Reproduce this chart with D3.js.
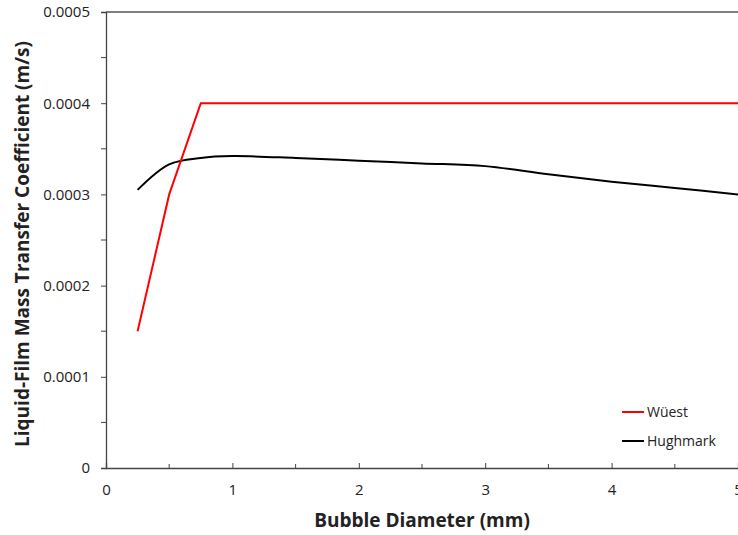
<!DOCTYPE html>
<html>
<head>
<meta charset="utf-8">
<script src="https://cdn.jsdelivr.net/npm/d3@7"></script>
<style>
body { margin: 0; background: #fff; }
text { font-family: "Open Sans", "Noto Sans", sans-serif; }
</style>
</head>
<body>
<script>
var width = 738, height = 535;

// data
var diameter = [0.25, 0.5, 0.75, 1, 1.5, 2, 2.5, 3, 3.5, 4, 4.5, 5];
var wuest = [0.00015, 0.0003, 0.0004, 0.0004, 0.0004, 0.0004, 0.0004, 0.0004, 0.0004, 0.0004, 0.0004, 0.0004];
var hughmark = [0.000305, 0.000333, 0.00034, 0.000342, 0.00034, 0.000337, 0.000334, 0.000331, 0.000322, 0.000314, 0.000307, 0.0003];
var xTicks = [0, 1, 2, 3, 4, 5];
var yTicks = [0, 0.0001, 0.0002, 0.0003, 0.0004, 0.0005];
var seriesNames = ["Wüest", "Hughmark"];
var seriesColors = ["#ff0000", "#000000"];

var mLeft = 106, mRight = 738, mTop = 12, mBottom = 468;

var x = d3.scaleLinear().domain([0, 5]).range([mLeft, mRight]);
var y = d3.scaleLinear().domain([0, 0.0005]).range([mBottom, mTop]);

var svg = d3.select("body").append("svg")
    .attr("width", width)
    .attr("height", height);

// frame line on top
svg.append("line")
    .attr("x1", mLeft).attr("x2", mRight)
    .attr("y1", mTop).attr("y2", mTop)
    .attr("stroke", "#000").attr("stroke-width", 1);

// y axis
var yAxis = svg.append("g")
    .attr("transform", "translate(" + mLeft + ",0)")
    .call(d3.axisLeft(y).tickValues(yTicks).tickSize(5).tickPadding(11)
        .tickFormat(function(d) { return d === 0 ? "0" : d.toFixed(4); }));
yAxis.selectAll(".tick line").attr("stroke", "#444");
yAxis.select(".domain").attr("stroke", "#444").attr("stroke-width", 1.3);
yAxis.selectAll("text").attr("font-size", 15).attr("fill", "#222")
    .attr("font-family", "Open Sans, Noto Sans, sans-serif");
// minor y ticks
svg.append("g").selectAll("line")
    .data(d3.range(0.00005, 0.0005, 0.0001))
    .join("line")
    .attr("x1", mLeft - 5).attr("x2", mLeft)
    .attr("y1", function(d) { return y(d); }).attr("y2", function(d) { return y(d); })
    .attr("stroke", "#444");

// x axis, ticks pointing inside
var xAxis = svg.append("g")
    .attr("transform", "translate(0," + mBottom + ")")
    .call(d3.axisBottom(x).tickValues(xTicks).tickSize(-5).tickPadding(16)
        .tickFormat(d3.format("d")));
xAxis.selectAll(".tick line").attr("stroke", "#444");
xAxis.select(".domain").attr("stroke", "#444").attr("stroke-width", 1.3);
xAxis.selectAll("text").attr("font-size", 15).attr("fill", "#222")
    .attr("font-family", "Open Sans, Noto Sans, sans-serif");
svg.append("g").selectAll("line")
    .data(d3.range(0.5, 5, 1))
    .join("line")
    .attr("x1", function(d) { return x(d); }).attr("x2", function(d) { return x(d); })
    .attr("y1", mBottom - 4).attr("y2", mBottom)
    .attr("stroke", "#444");

// axis titles
svg.append("text")
    .attr("x", 422)
    .attr("y", 527)
    .attr("text-anchor", "middle")
    .attr("font-size", 19).attr("font-weight", "bold").attr("fill", "#222")
    .text("Bubble Diameter (mm)");

svg.append("text")
    .attr("transform", "translate(29,244) rotate(-90)")
    .attr("text-anchor", "middle")
    .attr("font-size", 19).attr("font-weight", "bold").attr("fill", "#222")
    .text("Liquid-Film Mass Transfer Coefficient (m/s)");

// lines
var plot = svg.append("g");
var straight = d3.line()
    .x(function(d) { return x(d[0]); })
    .y(function(d) { return y(d[1]); });
var smooth = d3.line()
    .curve(d3.curveCatmullRom.alpha(0.5))
    .x(function(d) { return x(d[0]); })
    .y(function(d) { return y(d[1]); });

plot.append("path")
    .datum(d3.zip(diameter, hughmark))
    .attr("d", smooth)
    .attr("fill", "none")
    .attr("stroke", seriesColors[1])
    .attr("stroke-width", 2);

plot.append("path")
    .datum(d3.zip(diameter, wuest))
    .attr("d", straight)
    .attr("fill", "none")
    .attr("stroke", seriesColors[0])
    .attr("stroke-width", 2);

// legend
var legend = svg.append("g").attr("transform", "translate(622,412)");
seriesNames.forEach(function(name, i) {
    var g = legend.append("g").attr("transform", "translate(0," + (i * 29) + ")");
    g.append("line").attr("x1", 0).attr("x2", 22)
        .attr("stroke", seriesColors[i]).attr("stroke-width", 2);
    g.append("text").attr("x", 25).attr("y", 5)
        .attr("font-size", 14).attr("fill", "#222")
        .text(name);
});
</script>
</body>
</html>
